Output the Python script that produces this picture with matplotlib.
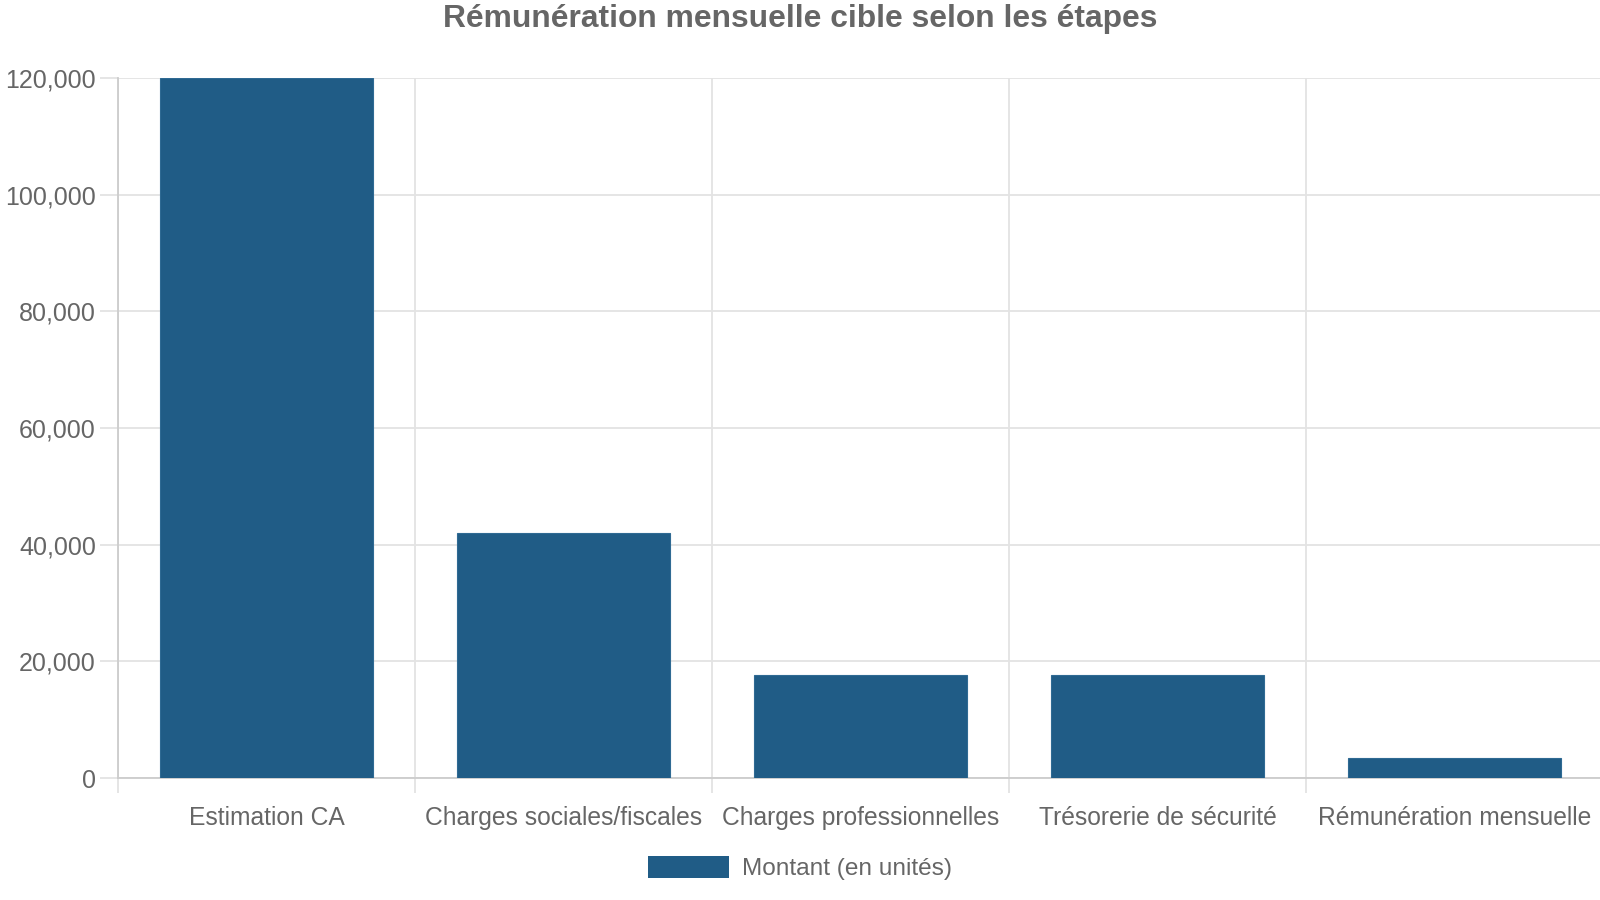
import matplotlib.pyplot as plt
from matplotlib.patches import Patch
from matplotlib.ticker import FuncFormatter, FixedLocator

# =============================================================================
# donnees
# =============================================================================
etapes = ["Estimation CA", "Charges sociales/fiscales", "Charges professionnelles",
          "Trésorerie de sécurité", "Rémunération mensuelle"]
montants = [120000, 42000, 17700, 17700, 3500]
serie = "Montant (en unités)"
titre = "Rémunération mensuelle cible selon les étapes"

couleur = "#205c86"
gris_txt = "#666666"
gris_grille = "#e3e3e3"
gris_axe = "#cccccc"

plt.rcParams['font.family'] = ['Liberation Sans', 'DejaVu Sans']

W, H = 1600, 900
fig = plt.figure(figsize=(16, 9), dpi=100)
ax = fig.add_axes([118 / W, 1 - 778 / H, (1603 - 118) / W, 700 / H])

x = list(range(len(etapes)))
ax.bar(x, montants, width=0.72, color=couleur, edgecolor="#2f6a93", linewidth=0.8, zorder=3)

ax.set_xlim(-0.5, len(etapes) - 0.5)
ax.set_ylim(0, 120000)

# grille horizontale
ax.set_yticks(range(0, 120001, 20000))
ax.yaxis.set_major_formatter(FuncFormatter(lambda v, p: f"{int(v):,}"))
# grille verticale aux frontieres des categories
ax.xaxis.set_major_locator(FixedLocator([i - 0.5 for i in range(len(etapes) + 1)]))
ax.xaxis.set_minor_locator(FixedLocator(x))
ax.set_xticklabels([], minor=False)
ax.set_xticklabels(etapes, minor=True)

ax.grid(True, which="major", color=gris_grille, linewidth=1.3, zorder=0)
ax.tick_params(axis="y", which="major", length=13, width=1.3, color=gris_grille,
               labelsize=18, labelcolor=gris_txt, pad=3)
ax.tick_params(axis="x", which="major", length=11, width=1.3, color=gris_grille)
ax.tick_params(axis="x", which="minor", length=0, labelsize=17.7, labelcolor=gris_txt, pad=20)

for s in ["top", "right"]:
    ax.spines[s].set_visible(False)
ax.spines["left"].set_color(gris_axe)
ax.spines["bottom"].set_color(gris_axe)
ax.spines["left"].set_linewidth(1.3)
ax.spines["bottom"].set_linewidth(1.3)

fig.text(800 / W, 1 - 19 / H, titre, ha="center", va="center",
         fontsize=22.9, fontweight="bold", color=gris_txt)

fig.legend(handles=[Patch(facecolor=couleur, label=serie)], loc="center",
           bbox_to_anchor=(800 / W, 1 - 868 / H), frameon=False,
           fontsize=17.6, labelcolor=gris_txt, handlelength=3.3, handleheight=1.0,
           handletextpad=0.55)

fig.savefig("out.png", dpi=100)
